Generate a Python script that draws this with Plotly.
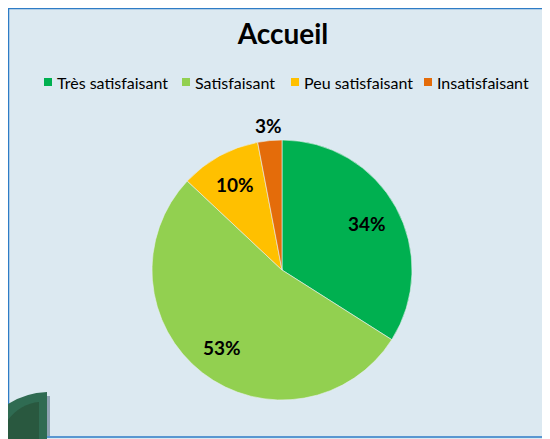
import math
import plotly.graph_objects as go

# the page body keeps its default 8px margin, so the figure starts at (8, 8)
OFF = 8
W, H = 550 - OFF, 439 - OFF

title = 'Accueil'
labels = ['Très satisfaisant', 'Satisfaisant', 'Peu satisfaisant', 'Insatisfaisant']
values = [34, 53, 10, 3]
colors = ['#00B050', '#92D050', '#FFC000', '#E46C0A']

# pie geometry on the page (pixels)
CX, CY, R = 282, 270, 130
legend_x = [55, 193, 302, 435]
legend_y = 82


def px(x):
    return (x - OFF) / W


def py(y):
    return 1 - (y - OFF) / H


fig = go.Figure(go.Pie(
    labels=labels,
    values=values,
    sort=False,
    direction='clockwise',
    rotation=0,
    marker=dict(colors=colors, line=dict(color='#E8F0F0', width=0.6)),
    textinfo='none',
    showlegend=False,
    domain=dict(x=[px(CX - R), px(CX + R)], y=[py(CY + R), py(CY - R)]),
    hoverinfo='label+percent',
))

annotations = []
total = sum(values)
cum = 0
for lab, v in zip(labels, values):
    mid = (cum + v / 2) / total * 2 * math.pi
    cum += v
    frac = 1.12 if v / total < 0.05 else 0.75
    x = CX + R * frac * math.sin(mid)
    y = CY - R * frac * math.cos(mid)
    annotations.append(dict(
        x=px(x), y=py(y), xref='paper', yref='paper', showarrow=False,
        text=f'<b>{round(v / total * 100)}%</b>',
        font=dict(family='Lato', size=19, color='#000000'),
        xanchor='center', yanchor='middle'))

# legend drawn by hand: small squares and their labels
shapes = []
for lab, col, lx in zip(labels, colors, legend_x):
    shapes.append(dict(type='rect', xref='paper', yref='paper',
                       x0=px(lx - 11), x1=px(lx - 3), y0=py(legend_y + 4), y1=py(legend_y - 4),
                       fillcolor=col, line_width=0))
    annotations.append(dict(x=px(lx), y=py(legend_y), xref='paper', yref='paper', showarrow=False,
                            text=lab, font=dict(family='Lato', size=16, color='#000000'),
                            xanchor='left', yanchor='middle'))

# frame and corner logo
shapes += [
    dict(type='rect', xref='paper', yref='paper', x0=px(8.5), x1=px(549), y0=py(437), y1=py(8.5),
         fillcolor='rgba(0,0,0,0)', line=dict(color='#2E7CC6', width=1.5)),
    dict(type='rect', xref='paper', yref='paper', x0=px(47), x1=px(50), y0=py(436), y1=py(396),
         fillcolor='#8FA3B3', line_width=0),
    dict(type='path', xref='paper', yref='paper',
         path=(f'M {px(0)} {py(410)} Q {px(20)} {py(393)} {px(47)} {py(392)} '
               f'L {px(47)} {py(439)} L {px(0)} {py(439)} Z'),
         fillcolor='#2F6B52', line_width=0),
    dict(type='path', xref='paper', yref='paper',
         path=(f'M {px(0)} {py(432)} Q {px(15)} {py(404)} {px(39)} {py(402)} '
               f'L {px(39)} {py(439)} L {px(0)} {py(439)} Z'),
         fillcolor='#29583F', line_width=0),
]

fig.update_layout(
    width=W, height=H,
    margin=dict(l=0, r=0, t=0, b=0),
    paper_bgcolor='#DCE9F1',
    plot_bgcolor='#DCE9F1',
    title=dict(text=f'<b>{title}</b>', x=px(283), xanchor='center', y=py(34), yanchor='middle',
               font=dict(family='Lato', size=28, color='#000000')),
    shapes=shapes,
    annotations=annotations,
)

fig.write_html('out.html')
